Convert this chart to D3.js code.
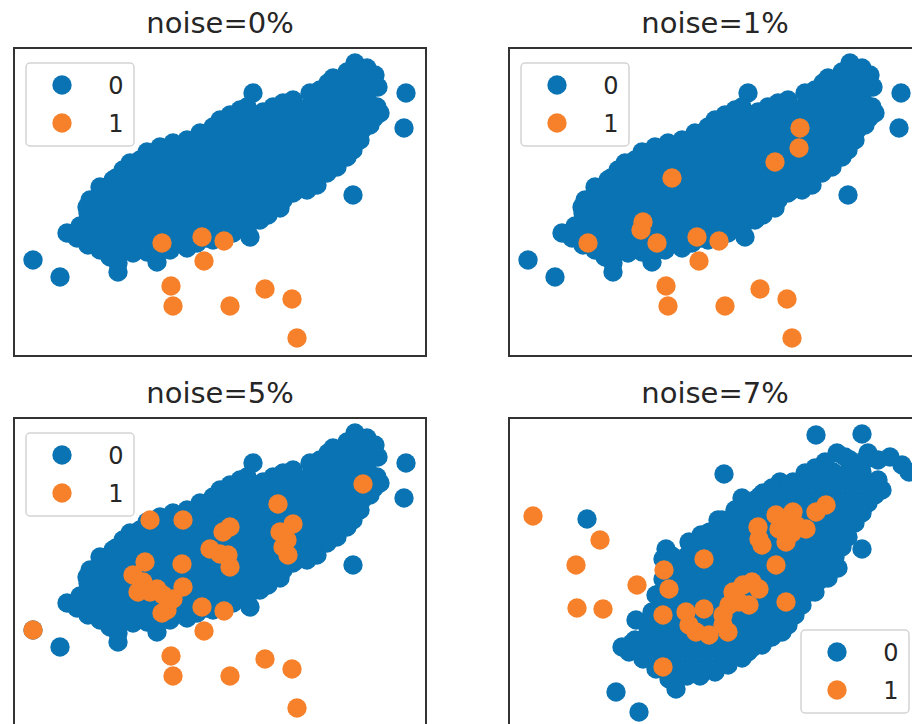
<!DOCTYPE html>
<html lang="en">
<head>
    <meta charset="UTF-8">
    <title>Label noise</title>
    <script src="https://d3js.org/d3.v7.min.js"></script>
    <style>
      body { margin: 0; background: #fff; font-family: "DejaVu Sans", sans-serif; }
      svg { display: block; }
    </style>
</head>
<body>
    <svg width="912" height="724"></svg>
    <script>
        // class 0 cloud, same X for noise 0/1/5 % (only labels get flipped)
        const blueEdge = [
            [35.5,33.7],[36.7,33.2],[37.5,32.5],[37.8,31.3],[37.3,31.7],[36.3,32.2],[34.7,32.8],[33.3,32.2],[32.8,31.7],
            [38.0,28.7],[37.7,29.3],[36.7,30.3],[37.0,27.5],[36.0,26.0],[35.3,25.0],[34.7,24.3],[33.7,23.3],[32.7,22.7],
            [31.7,21.5],[30.7,21.0],[29.3,20.7],[28.3,20.0],[27.3,19.3],[26.8,18.5],[26.0,18.0],[24.7,17.0],[25.0,16.3],
            [23.3,16.7],[28.0,19.2],[32.0,31.0],[31.0,30.7],[29.3,30.0],[28.3,29.7],[27.3,29.3],[26.3,28.8],[25.3,30.7],
            [24.7,29.3],[24.0,29.0],[23.0,28.5],[22.0,28.0],[21.3,27.3],[20.0,26.7],[18.7,26.0],[17.3,25.7],[16.0,25.3],
            [14.7,24.8],[14.0,24.0],[13.0,23.7],[12.3,23.0],[11.3,22.0],[10.0,21.3],[9.0,20.0],[8.7,19.3],[8.8,18.7],
            [6.7,16.7],[7.7,16.2],[8.8,15.5],[10.0,15.0],[11.0,14.3],[11.8,12.8],[11.8,13.7],[13.3,14.7],[14.7,14.8],
            [15.7,13.8],[17.0,15.0],[18.7,15.2],[19.7,15.7],[21.3,16.0],
            [3.3,14.0],[6.0,12.3],[35.3,20.5],[40.6,30.7],[40.4,27.2]
        ];
        // inside of the cloud, one row per y value
        const blueRows = [
            [33.0, [35.2, 36.5]],
            [31.8, [34.0, 35.4, 36.8]],
            [30.6, [32.2, 33.6, 35.0, 36.4]],
            [29.4, [28.0, 29.5, 31.0, 32.5, 34.0, 35.5, 37.0]],
            [28.2, [22.8, 24.3, 25.8, 27.3, 28.8, 30.3, 31.8, 33.3, 34.8, 36.3, 37.4]],
            [27.0, [21.2, 22.7, 24.2, 25.7, 27.2, 28.7, 30.2, 31.7, 33.2, 34.7, 36.2]],
            [25.8, [19.0, 20.5, 22.0, 23.5, 25.0, 26.5, 28.0, 29.5, 31.0, 32.5, 34.0, 35.4]],
            [24.6, [15.2, 16.7, 18.2, 19.7, 21.2, 22.7, 24.2, 25.7, 27.2, 28.7, 30.2, 31.7, 33.2, 34.5]],
            [23.4, [13.0, 14.5, 16.0, 17.5, 19.0, 20.5, 22.0, 23.5, 25.0, 26.5, 28.0, 29.5, 31.0, 32.5]],
            [22.2, [11.6, 13.1, 14.6, 16.1, 17.6, 19.1, 20.6, 22.1, 23.6, 25.1, 26.6, 28.1, 29.6, 31.1]],
            [21.0, [10.2, 11.7, 13.2, 14.7, 16.2, 17.7, 19.2, 20.7, 22.2, 23.7, 25.2, 26.7, 28.2, 29.7]],
            [19.8, [9.5, 11.0, 12.5, 14.0, 15.5, 17.0, 18.5, 20.0, 21.5, 23.0, 24.5, 26.0, 27.5]],
            [18.6, [10.3, 11.8, 13.3, 14.8, 16.3, 17.8, 19.3, 20.8, 22.3, 23.8, 25.3]],
            [17.4, [8.0, 9.5, 11.0, 12.5, 14.0, 15.5, 17.0, 18.5, 20.0, 21.5, 23.0, 24.2]],
            [16.2, [9.0, 10.5, 12.0, 13.5, 15.0, 16.5, 18.0, 19.5, 20.7]],
            [15.0, [11.5, 12.8, 15.5]]
        ];
        const orangeBase = [
            [16.2,15.7],[20.2,16.3],[22.4,15.9],[20.4,13.9],[17.1,11.4],
            [17.3,9.4],[23.0,9.4],[26.5,11.1],[29.2,10.1],[29.7,6.2]
        ];
        const flips1 = [[9.3,15.7],[14.8,17.8],[14.6,17.0],[17.7,22.2],[28.0,23.8],[30.4,25.2],[30.5,27.2]];
        const flips5 = [
            [3.3,14.0],[15.0,25.0],[18.3,25.0],[27.8,26.6],[36.3,28.6],[23.0,24.3],[22.3,23.8],[29.3,24.6],
            [28.0,23.8],[28.7,23.0],[28.3,22.3],[28.8,21.5],[21.0,22.1],[22.0,21.6],[22.8,21.5],[23.0,20.3],
            [18.2,20.6],[14.5,20.8],[13.3,19.5],[14.3,18.8],[15.0,17.8],[16.3,17.5],[17.3,17.1],[16.7,16.0],
            [18.3,18.3],[15.7,18.1],[13.8,17.8]
        ];

        // noise=7% is another sample
        const blue7Edge = [
            [34.2,31.7],[35.0,31.3],[33.0,30.8],[32.0,30.2],[31.0,29.7],[29.8,28.8],[28.5,28.8],[27.7,28.2],[26.8,27.7],
            [26.0,27.0],[24.7,27.2],[24.0,26.0],[22.3,25.0],[21.3,23.7],[20.6,23.5],[19.4,22.8],[17.1,22.1],[16.8,21.1],
            [16.8,19.1],[16.1,17.5],[15.7,15.8],[15.3,14.2],[13.7,12.7],[12.7,12.3],[13.4,11.8],[14.8,11.1],[16.1,10.1],
            [17.4,9.1],[18.1,8.1],[14.1,15.0],
            [37.3,31.7],[38.3,31.0],[39.5,31.3],[40.7,30.5],[41.4,29.8],[38.3,29.0],[38.7,28.0],[38.0,27.5],
            [37.3,26.7],[36.7,25.7],[36.0,24.7],[35.3,23.3],[34.7,22.3],[34.0,21.3],[34.3,20.2],[33.3,19.2],[32.0,17.8],
            [30.7,16.5],[30.0,15.5],[29.3,14.5],[28.7,13.8],[27.7,13.3],[26.7,12.5],[25.7,12.2],[24.7,11.2],[23.3,10.5],
            [22.0,9.8],[20.8,9.8],[19.4,10.1],[24.1,12.1],
            [32.1,33.5],[36.7,33.6],[22.9,29.6],[9.2,25.1],[36.7,22.1],[12.1,7.8],[14.4,5.8]
        ];
        const blue7Rows = [
            [31.0, [35.5, 37.0]],
            [29.8, [32.3, 33.8, 35.3, 36.7]],
            [28.6, [29.5, 31.0, 32.5, 34.0, 35.5, 37.0, 38.3]],
            [27.4, [26.5, 28.0, 29.5, 31.0, 32.5, 34.0, 35.5, 37.0]],
            [26.2, [24.5, 26.0, 27.5, 29.0, 30.5, 32.0, 33.5, 35.0, 36.3]],
            [25.0, [22.7, 24.2, 25.7, 27.2, 28.7, 30.2, 31.7, 33.2, 34.7, 35.7]],
            [23.8, [21.5, 23.0, 24.5, 26.0, 27.5, 29.0, 30.5, 32.0, 33.5, 34.9]],
            [22.6, [19.5, 21.0, 22.5, 24.0, 25.5, 27.0, 28.5, 30.0, 31.5, 33.0, 34.3]],
            [21.4, [17.7, 19.2, 20.7, 22.2, 23.7, 25.2, 26.7, 28.2, 29.7, 31.2, 32.7, 33.9]],
            [20.2, [17.3, 18.8, 20.3, 21.8, 23.3, 24.8, 26.3, 27.8, 29.3, 30.8, 32.3, 33.5]],
            [19.0, [17.5, 19.0, 20.5, 22.0, 23.5, 25.0, 26.5, 28.0, 29.5, 31.0, 32.5]],
            [17.8, [16.7, 18.2, 19.7, 21.2, 22.7, 24.2, 25.7, 27.2, 28.7, 30.2, 31.5]],
            [16.6, [16.5, 18.0, 19.5, 21.0, 22.5, 24.0, 25.5, 27.0, 28.5, 30.0]],
            [15.4, [16.2, 17.7, 19.2, 20.7, 22.2, 23.7, 25.2, 26.7, 28.2, 29.5]],
            [14.2, [16.0, 17.5, 19.0, 20.5, 22.0, 23.5, 25.0, 26.5, 28.0]],
            [13.0, [14.0, 15.5, 17.0, 18.5, 20.0, 21.5, 23.0, 24.5, 26.0, 27.0]],
            [11.8, [15.0, 16.5, 18.0, 19.5, 21.0, 22.5, 24.0, 25.3]],
            [10.6, [16.5, 18.0, 19.5, 21.0, 22.5]],
            [9.4, [17.7, 19.2, 20.5]]
        ];
        const orange7 = [
            [3.8,25.4],[10.5,23.0],[8.1,20.5],[14.2,18.5],[8.2,16.2],[10.8,16.1],
            [26.3,24.3],[26.4,23.1],[26.7,22.5],[28.1,25.5],[29.1,25.1],[29.8,25.8],[28.4,24.1],[29.1,22.8],
            [30.1,24.5],[31.1,24.1],[32.1,25.8],[33.1,26.5],[29.7,23.7],
            [20.9,21.1],[28.1,20.5],[16.9,20.0],[17.4,18.1],
            [23.8,17.8],[24.8,18.5],[25.7,18.8],[26.4,18.1],[24.4,16.8],[23.4,16.5],[25.4,16.5],[29.1,16.8],
            [22.8,15.5],[20.9,16.1],[19.1,15.8],[19.4,14.5],[20.1,13.8],[21.4,13.5],[22.8,14.5],[23.3,13.8],
            [16.8,15.5],[16.8,10.3]
        ];

        const titles = ["noise=0%", "noise=1%", "noise=5%", "noise=7%"];
        const classNames = ["0", "1"];
        const colors = ["#0a73b3", "#f7812a"];

        const panelW = 412, panelH = 308, r = 9.7;
        const origins = [[14, 48], [509, 48], [14, 418], [509, 418]];

        const rowsToPoints = rows => rows.flatMap(([yv, xs]) => xs.map(xv => [xv, yv]));
        const blueA = blueEdge.concat(rowsToPoints(blueRows));
        const blueB = blue7Edge.concat(rowsToPoints(blue7Rows));

        const panels = [
            { title: titles[0], sets: [blueA, orangeBase], legend: "upper left" },
            { title: titles[1], sets: [blueA, orangeBase.concat(flips1)], legend: "upper left" },
            { title: titles[2], sets: [blueA, orangeBase.concat(flips5)], legend: "upper left" },
            { title: titles[3], sets: [blueB, orange7], legend: "lower right" }
        ];

        let x = d3.scaleLinear().domain([1.4, 42.6]).range([0, panelW]);
        let y = d3.scaleLinear().domain([4.4, 35.2]).range([panelH, 0]);

        let svg = d3.select("svg");

        panels.forEach((p, i) => {
            let g = svg.append("g").attr("transform", `translate(${origins[i][0]},${origins[i][1]})`);

            g.append("clipPath").attr("id", "clip" + i)
                .append("rect").attr("width", panelW).attr("height", panelH);

            let plot = g.append("g").attr("clip-path", `url(#clip${i})`);
            p.sets.forEach((pts, k) => {
                plot.append("g").selectAll("circle").data(pts).enter().append("circle")
                    .attr("cx", d => x(d[0])).attr("cy", d => y(d[1]))
                    .attr("r", r).attr("fill", colors[k]);
            });

            g.append("rect").attr("width", panelW).attr("height", panelH)
                .attr("fill", "none").attr("stroke", "#333").attr("stroke-width", 2);

            g.append("text").attr("x", panelW / 2).attr("y", -15)
                .attr("text-anchor", "middle").attr("font-size", 29).attr("fill", "#262626")
                .text(p.title);

            // legend
            let lw = 108, lh = 83;
            let lx = p.legend == "upper left" ? 12 : panelW - 12 - lw;
            let ly = p.legend == "upper left" ? 15 : panelH - 13 - lh;
            let leg = g.append("g").attr("transform", `translate(${lx},${ly})`);
            leg.append("rect").attr("width", lw).attr("height", lh).attr("rx", 4)
                .attr("fill", "white").attr("fill-opacity", 0.8)
                .attr("stroke", "#d4d4d4").attr("stroke-width", 1.5);
            classNames.forEach((c, k) => {
                leg.append("circle").attr("cx", 36).attr("cy", 22 + k * 38).attr("r", r).attr("fill", colors[k]);
                leg.append("text").attr("x", 90).attr("y", 22 + k * 38).attr("dy", "0.36em")
                    .attr("text-anchor", "middle").attr("font-size", 24).attr("fill", "#262626")
                    .text(c);
            });
        });
    </script>
</body>
</html>
